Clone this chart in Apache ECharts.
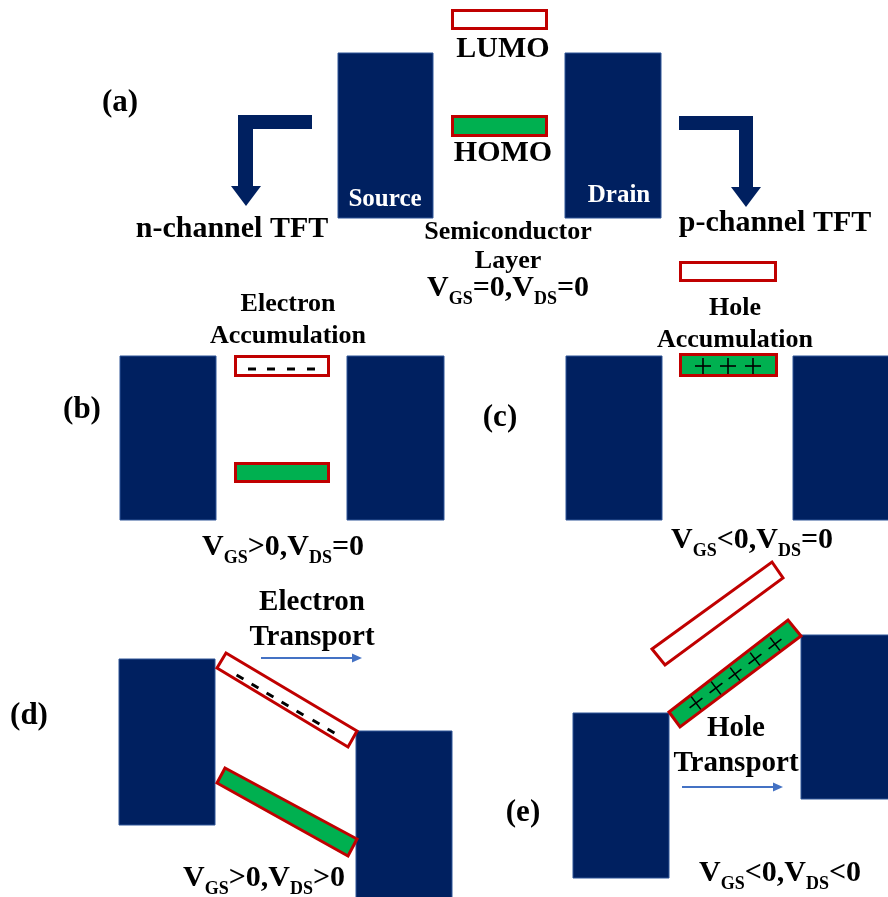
<!DOCTYPE html>
<html><head><meta charset="utf-8">
<script src="https://cdn.jsdelivr.net/npm/echarts@6/dist/echarts.min.js"></script>
<style>html,body{margin:0;padding:0;background:#fff}#c{width:888px;height:897px}</style>
</head><body><div id="c"></div>
<script>
// ---- diagram values (in figure units, y grows downward) ----
// electrodes: [x1, y1, x2, y2]
const electrodes = [
  [338, 53, 433, 218], [565, 53, 661, 218],      // (a)
  [120, 356, 216, 520], [347, 356, 444, 520],    // (b)
  [566, 356, 662, 520], [793, 356, 892, 520],    // (c)
  [119, 659, 215, 825], [356, 731, 452, 899],    // (d)
  [573, 713, 669, 878], [801, 635, 892, 799]     // (e)
];
// flat energy levels: [x1, y1, x2, y2]
const emptyLevels = [[451, 9, 548, 30], [679, 261, 777, 282], [234, 355, 330, 377]];
const filledLevels = [[451, 115, 548, 137], [234, 462, 330, 483], [679, 353, 778, 377]];
// tilted energy levels: four corners
const tiltedEmpty = [
  [[226, 653], [357, 731], [348, 747], [217, 668]],
  [[652, 649], [772, 562], [783, 578], [665, 665]]
];
const tiltedFilled = [
  [[225, 768], [357, 839], [348, 856], [217, 783]],
  [[669, 712], [788, 620], [801, 636], [680, 727]]
];
// charges: [x, y, angle in degrees]
const electrons = [
  [252, 369, 0], [271, 369, 0], [291, 369, 0], [311, 369, 0],
  [240, 677, 31], [255, 686, 31], [270, 695, 31], [285, 704, 31], [300, 713, 31], [316, 722, 31], [331, 731, 31]
];
const holes = [
  [703, 366, 0], [728, 366, 0], [753, 366, 0],
  [696, 703, -37], [716, 688, -37], [735, 674, -37], [755, 659, -37], [775, 644, -37]
];
// L-shaped arrows (outline points)
const turnArrows = [
  [[312, 115], [238, 115], [238, 186], [231, 186], [246, 206], [261, 186], [253, 186], [253, 129], [312, 129]],
  [[679, 116], [753, 116], [753, 187], [761, 187], [746, 207], [731, 187], [739, 187], [739, 130], [679, 130]]
];
// transport arrows: [x1, y, x2]
const transportArrows = [[261, 658, 362], [682, 787, 783]];
// texts: [text, x, y]
const levelNames = [['LUMO', 503, 49], ['HOMO', 503, 153]];
const channelNames = [['n-channel TFT', 232, 229], ['p-channel TFT', 775, 223]];
const panelLetters = [['(a)', 120, 103], ['(b)', 82, 410], ['(c)', 500, 418], ['(d)', 29, 716], ['(e)', 523, 813]];
const smallLabels = [['Semiconductor', 508, 232], ['Layer', 508, 261], ['Electron', 288, 304], ['Accumulation', 288, 336], ['Hole', 735, 308], ['Accumulation', 735, 340]];
const transportLabels = [['Electron', 312, 603], ['Transport', 312, 638], ['Hole', 736, 729], ['Transport', 736, 764]];
const electrodeNames = [['Source', 385, 200], ['Drain', 619, 196]];
// bias conditions: [x, y, V_GS relation, V_DS relation]
const biasLabels = [[508, 288, '=0', '=0'], [283, 547, '>0', '=0'], [752, 540, '<0', '=0'], [264, 878, '>0', '>0'], [780, 873, '<0', '<0']];

// ---- styles ----
const NAVY = '#002060', RED = '#c00000', GREEN = '#00b050', BLUE = '#4472c4';
const SERIF = "'Liberation Serif','Times New Roman',serif";

function pt(api, p) { return api.coord(p); }

function textSeries(arr, size, color) {
  return {
    type: 'custom', coordinateSystem: 'cartesian2d', clip: false, z: 10,
    data: arr.map(d => [d[1], d[2]]),
    renderItem: (params, api) => {
      const d = arr[params.dataIndex];
      const p = pt(api, [d[1], d[2]]);
      return { type: 'text', style: { text: d[0], x: p[0], y: p[1], align: 'center', verticalAlign: 'middle',
        fill: color, fontFamily: SERIF, fontWeight: 'bold', fontSize: size } };
    }
  };
}

function polySeries(arr, fill, stroke, lw, z) {
  return {
    type: 'custom', coordinateSystem: 'cartesian2d', clip: false, z: z,
    data: arr.map(d => d[0]),
    renderItem: (params, api) => {
      const d = arr[params.dataIndex];
      return { type: 'polygon', shape: { points: d.map(q => pt(api, q)) },
        style: { fill: fill, stroke: stroke, lineWidth: lw, lineJoin: 'miter' } };
    }
  };
}

function levelSeries(arr, fill) {
  return {
    type: 'custom', coordinateSystem: 'cartesian2d', clip: false, z: 3,
    data: arr.map(d => [d[0], d[1]]),
    renderItem: (params, api) => {
      const d = arr[params.dataIndex];
      const a = pt(api, [d[0], d[1]]), b = pt(api, [d[2], d[3]]);
      return { type: 'rect', shape: { x: a[0] + 1.5, y: a[1] + 1.5, width: b[0] - a[0] - 3, height: b[1] - a[1] - 3 },
        style: { fill: fill, stroke: RED, lineWidth: 3 } };
    }
  };
}

const option = {
  animation: false,
  backgroundColor: '#fff',
  grid: { left: 0, right: 0, top: 0, bottom: 0 },
  xAxis: { type: 'value', min: 0, max: 888, show: false },
  yAxis: { type: 'value', min: 0, max: 897, inverse: true, show: false },
  series: [
    {
      type: 'custom', coordinateSystem: 'cartesian2d', clip: true, z: 2,
      data: electrodes.map(d => [d[0], d[1]]),
      renderItem: (params, api) => {
        const d = electrodes[params.dataIndex];
        const a = pt(api, [d[0], d[1]]), b = pt(api, [d[2], d[3]]);
        return { type: 'rect', shape: { x: a[0], y: a[1], width: b[0] - a[0], height: b[1] - a[1] },
          style: { fill: NAVY, stroke: '#2f5597', lineWidth: 1 } };
      }
    },
    polySeries(turnArrows, NAVY, null, 0, 2),
    levelSeries(emptyLevels, '#fff'),
    levelSeries(filledLevels, GREEN),
    {
      type: 'custom', coordinateSystem: 'cartesian2d', clip: false, z: 3,
      data: tiltedEmpty.map(d => d[0]),
      renderItem: (params, api) => ({ type: 'polygon', shape: { points: tiltedEmpty[params.dataIndex].map(q => pt(api, q)) },
        style: { fill: '#fff', stroke: RED, lineWidth: 3 } })
    },
    {
      type: 'custom', coordinateSystem: 'cartesian2d', clip: false, z: 3,
      data: tiltedFilled.map(d => d[0]),
      renderItem: (params, api) => ({ type: 'polygon', shape: { points: tiltedFilled[params.dataIndex].map(q => pt(api, q)) },
        style: { fill: GREEN, stroke: RED, lineWidth: 3 } })
    },
    {
      type: 'custom', coordinateSystem: 'cartesian2d', clip: false, z: 4,
      data: electrons.map(d => [d[0], d[1]]),
      renderItem: (params, api) => {
        const d = electrons[params.dataIndex];
        const p = pt(api, [d[0], d[1]]);
        const r = d[2] * Math.PI / 180, h = 4;
        return { type: 'line', shape: { x1: p[0] - Math.cos(r) * h, y1: p[1] - Math.sin(r) * h, x2: p[0] + Math.cos(r) * h, y2: p[1] + Math.sin(r) * h },
          style: { stroke: '#000', lineWidth: 3 } };
      }
    },
    {
      type: 'custom', coordinateSystem: 'cartesian2d', clip: false, z: 4,
      data: holes.map(d => [d[0], d[1]]),
      renderItem: (params, api) => {
        const d = holes[params.dataIndex];
        const p = pt(api, [d[0], d[1]]);
        const r = d[2] * Math.PI / 180, h = 8, v = 8;
        const c = Math.cos(r), s = Math.sin(r);
        return { type: 'group', children: [
          { type: 'line', shape: { x1: p[0] - c * h, y1: p[1] - s * h, x2: p[0] + c * h, y2: p[1] + s * h }, style: { stroke: '#000', lineWidth: 1.6 } },
          { type: 'line', shape: { x1: p[0] + s * v, y1: p[1] - c * v, x2: p[0] - s * v, y2: p[1] + c * v }, style: { stroke: '#000', lineWidth: 1.6 } }
        ] };
      }
    },
    {
      type: 'custom', coordinateSystem: 'cartesian2d', clip: false, z: 4,
      data: transportArrows.map(d => [d[0], d[1]]),
      renderItem: (params, api) => {
        const d = transportArrows[params.dataIndex];
        const a = pt(api, [d[0], d[1]]), b = pt(api, [d[2], d[1]]);
        return { type: 'group', children: [
          { type: 'line', shape: { x1: a[0], y1: a[1], x2: b[0] - 8, y2: b[1] }, style: { stroke: BLUE, lineWidth: 2 } },
          { type: 'polygon', shape: { points: [[b[0], b[1]], [b[0] - 10, b[1] - 4.5], [b[0] - 10, b[1] + 4.5]] }, style: { fill: BLUE } }
        ] };
      }
    },
    textSeries(levelNames, 30, '#000'),
    textSeries(channelNames, 30, '#000'),
    textSeries(panelLetters, 31, '#000'),
    textSeries(smallLabels, 26, '#000'),
    textSeries(transportLabels, 29, '#000'),
    textSeries(electrodeNames, 25, '#fff'),
    {
      type: 'custom', coordinateSystem: 'cartesian2d', clip: false, z: 10,
      data: biasLabels.map(d => [d[0], d[1]]),
      renderItem: (params, api) => {
        const d = biasLabels[params.dataIndex];
        const p = pt(api, [d[0], d[1]]);
        return { type: 'text', style: {
          text: '{m|V}{s|GS}{m|' + d[2] + ',V}{s|DS}{m|' + d[3] + '}',
          x: p[0], y: p[1], align: 'center', verticalAlign: 'middle',
          rich: {
            m: { fontFamily: SERIF, fontWeight: 'bold', fontSize: 30, lineHeight: 40, fill: '#000', verticalAlign: 'middle' },
            s: { fontFamily: SERIF, fontWeight: 'bold', fontSize: 18, lineHeight: 18, fill: '#000', verticalAlign: 'bottom' }
          }
        } };
      }
    }
  ]
};
const chart = echarts.init(document.getElementById('c'));
chart.setOption(option);
</script></body></html>
